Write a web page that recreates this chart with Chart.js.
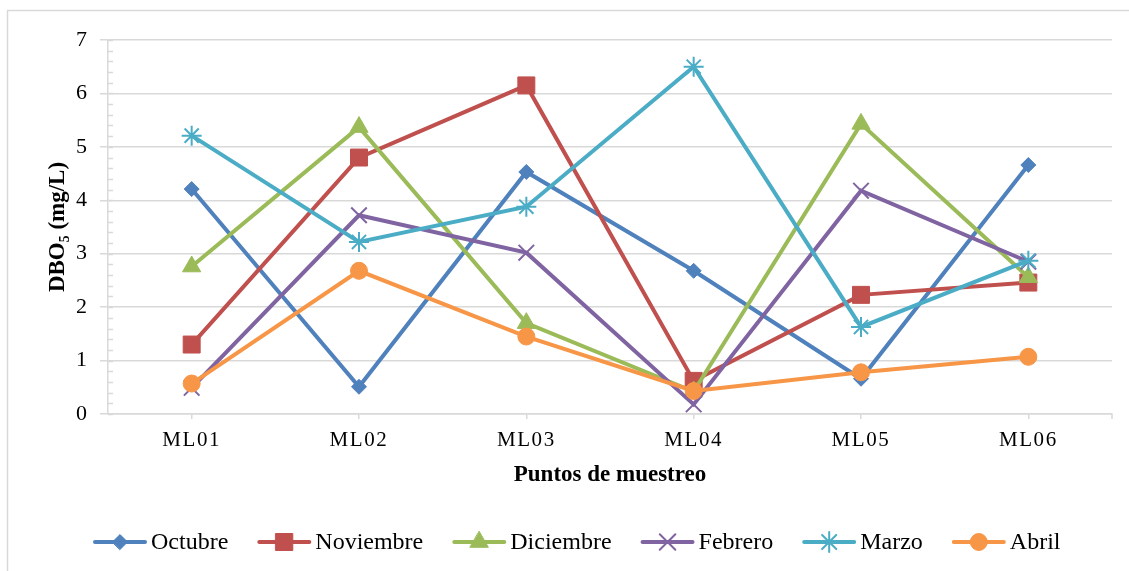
<!DOCTYPE html>
<html>
<head>
<meta charset="utf-8">
<script src="https://cdn.jsdelivr.net/npm/chart.js@4/dist/chart.umd.min.js"></script>
<style>
  html, body { margin: 0; padding: 0; background: #fff; }
  #wrap { width: 1129px; height: 571px; position: relative; }
</style>
</head>
<body>
<div id="wrap"><canvas id="myChart"></canvas></div>
<script>
const puntos = ['ML01', 'ML02', 'ML03', 'ML04', 'ML05', 'ML06'];
const octubre = [4.21, 0.51, 4.53, 2.68, 0.66, 4.66];
const noviembre = [1.30, 4.80, 6.15, 0.62, 2.23, 2.46];
const diciembre = [2.76, 5.37, 1.70, 0.42, 5.43, 2.56];
const febrero = [0.49, 3.72, 3.02, 0.18, 4.18, 2.85];
const marzo = [5.21, 3.22, 3.88, 6.50, 1.63, 2.87];
const abril = [0.57, 2.68, 1.45, 0.43, 0.78, 1.07];
const yTicks = [0, 1, 2, 3, 4, 5, 6, 7];

const series = [
  { label: 'Octubre', data: octubre, color: '#4F81BD', style: 'rectRot', r: 7.5, bw: 1 },
  { label: 'Noviembre', data: noviembre, color: '#C0504D', style: 'rect', r: 12, bw: 1 },
  { label: 'Diciembre', data: diciembre, color: '#9BBB59', style: 'triangle', r: 10.5, bw: 1 },
  { label: 'Febrero', data: febrero, color: '#8064A2', style: 'crossRot', r: 11, bw: 2 },
  { label: 'Marzo', data: marzo, color: '#4BACC6', style: 'star', r: 10, bw: 2 },
  { label: 'Abril', data: abril, color: '#F79646', style: 'circle', r: 8.5, bw: 1 }
];

const grey = '#d9d9d9';
const serif = "'Liberation Serif', 'Times New Roman', serif";

// legend drawn by hand: line + marker + text, like Excel
const excelLegend = {
  id: 'excelLegend',
  afterDraw(chart) {
    const ctx = chart.ctx;
    ctx.save();
    // outer frame
    ctx.strokeStyle = grey;
    ctx.lineWidth = 1.5;
    ctx.strokeRect(7.5, 10.5, 1140, 580);

    // minor ticks on y axis
    const y = chart.scales.y;
    const left = chart.chartArea.left;
    ctx.beginPath();
    for (let v = 0; v <= 7.001; v += 0.2) {
      const py = Math.round(y.getPixelForValue(v)) + 0.5;
      ctx.moveTo(left, py);
      ctx.lineTo(left + 5, py);
    }
    // tick at right end of category axis
    const right = chart.chartArea.right;
    ctx.moveTo(right, chart.chartArea.bottom);
    ctx.lineTo(right, chart.chartArea.bottom + 5);
    ctx.stroke();

    ctx.font = '24px ' + serif;
    ctx.textBaseline = 'middle';
    let x = 93;
    const ly = 542;
    chart.data.datasets.forEach((ds) => {
      ctx.strokeStyle = ds.borderColor;
      ctx.lineWidth = 4;
      ctx.lineCap = 'round';
      ctx.beginPath();
      ctx.moveTo(x + 2, ly);
      ctx.lineTo(x + 52, ly);
      ctx.stroke();
      ctx.fillStyle = ds.pointBackgroundColor;
      ctx.strokeStyle = ds.pointBorderColor;
      ctx.lineWidth = ds.pointBorderWidth;
      Chart.helpers.drawPoint(ctx, {
        pointStyle: ds.pointStyle,
        radius: ds.pointRadius,
        rotation: 0,
        borderWidth: ds.pointBorderWidth
      }, x + 27, ly);
      ctx.fillStyle = '#000';
      ctx.fillText(ds.label, x + 58, ly + 1);
      x += 58 + ctx.measureText(ds.label).width + 29;
    });
    ctx.restore();
  }
};

// spaced letters on the category labels
const spacedTicks = {
  id: 'spacedTicks',
  beforeDraw(chart) {
    const sx = chart.scales.x;
    if (sx && !sx._spaced) {
      const orig = sx.drawLabels;
      sx.drawLabels = function (area) {
        const c = this.ctx;
        c.save();
        c.letterSpacing = '1.6px';
        orig.call(this, area);
        c.restore();
      };
      sx._spaced = true;
    }
  }
};

new Chart(document.getElementById('myChart'), {
  type: 'line',
  data: {
    labels: puntos,
    datasets: series.map((s, i) => ({
      label: s.label,
      data: s.data,
      borderColor: s.color,
      backgroundColor: s.color,
      borderWidth: 4,
      pointStyle: s.style,
      pointRadius: s.r,
      pointHoverRadius: s.r,
      pointBackgroundColor: s.color,
      pointBorderColor: s.color,
      pointBorderWidth: s.bw,
      tension: 0,
      order: series.length - i
    }))
  },
  options: {
    responsive: true,
    maintainAspectRatio: false,
    animation: false,
    layout: {
      padding: { left: 0, top: 40, right: 17, bottom: 0 }
    },
    plugins: {
      legend: { display: false },
      tooltip: { enabled: false }
    },
    scales: {
      x: {
        offset: true,
        grid: {
          display: true,
          drawOnChartArea: false,
          drawTicks: true,
          tickLength: 5,
          color: grey,
          lineWidth: 1.5
        },
        border: { display: true, color: grey, width: 1.5 },
        ticks: {
          color: '#000',
          font: { family: serif, size: 21 },
          padding: 9,
          maxRotation: 0
        },
        title: {
          display: true,
          text: 'Puntos de muestreo',
          color: '#000',
          font: { family: serif, size: 23, weight: 'bold' },
          padding: { top: 0, bottom: 82 }
        },
        afterFit(scale) { scale.height = 157; }
      },
      y: {
        min: 0,
        max: 7,
        afterBuildTicks(scale) {
          scale.ticks = yTicks.map(v => ({ value: v }));
        },
        grid: {
          color: grey,
          lineWidth: 1.5,
          drawTicks: true,
          tickLength: 8
        },
        border: { display: true, color: grey, width: 1.5 },
        ticks: {
          color: '#000',
          font: { family: serif, size: 22 },
          padding: 13
        },
        title: {
          display: true,
          text: 'DBO₅ (mg/L)',
          color: '#000',
          font: { family: serif, size: 23, weight: 'bold' },
          padding: { top: 44, bottom: 0 }
        },
        afterFit(scale) { scale.width = 108; }
      }
    }
  },
  plugins: [excelLegend, spacedTicks]
});
</script>
</body>
</html>
